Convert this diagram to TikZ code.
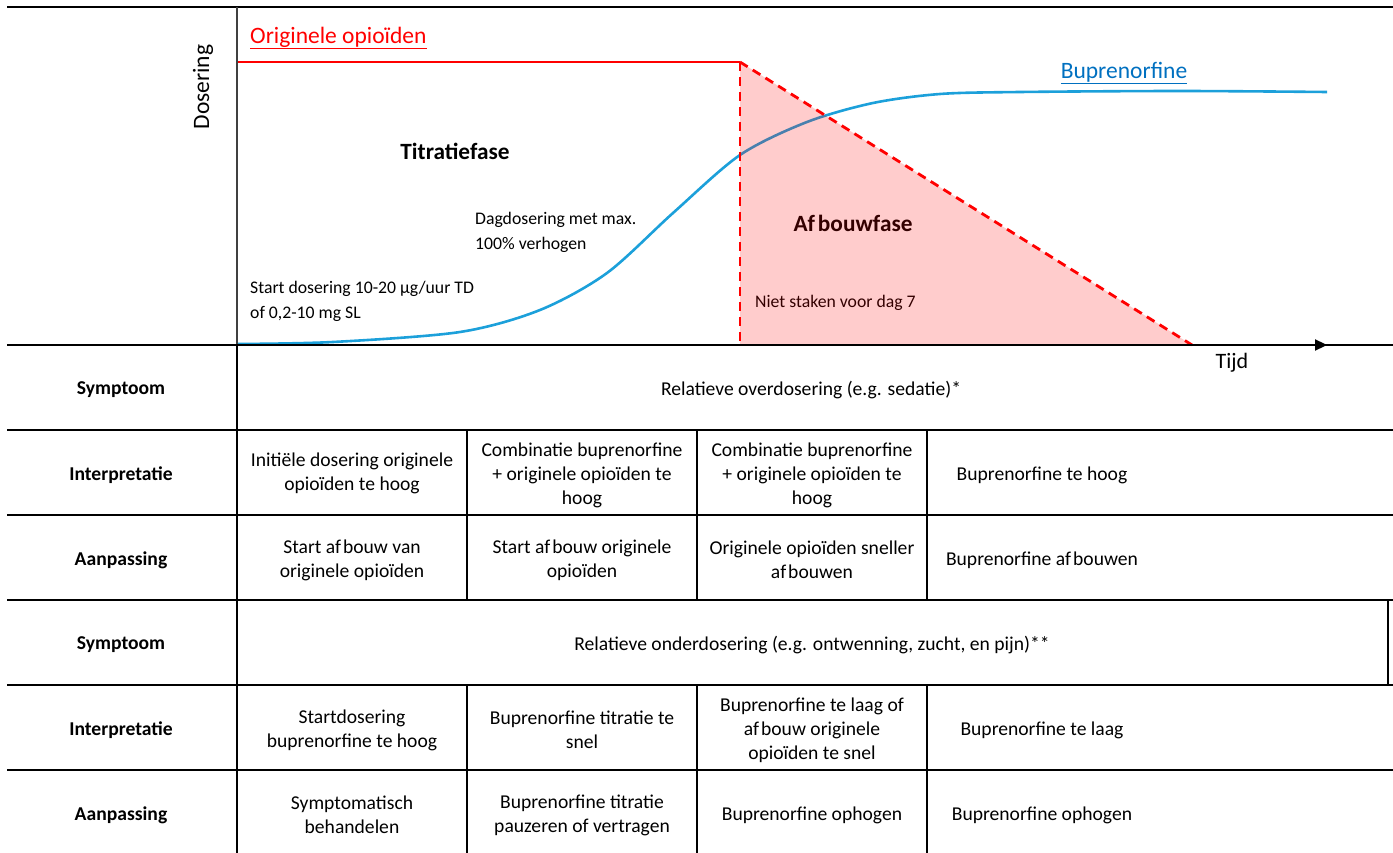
\documentclass[tikz,border=0pt]{standalone}
\usepackage{fontspec}
\setmainfont{Carlito}
\usetikzlibrary{arrows.meta}
\definecolor{bupblue}{RGB}{28,160,218}
\definecolor{buplabel}{RGB}{0,112,192}
\definecolor{origred}{RGB}{255,0,0}
\definecolor{axisgray}{RGB}{64,64,64}
\tikzset{
  cell/.style={align=center, font=\fontsize{19.6}{24}\selectfont, inner sep=0pt},
  rowlabel/.style={font=\bfseries\fontsize{19.6}{24}\selectfont, inner sep=0pt},
  rule/.style={line width=1.4pt, black},
  annot/.style={align=left, anchor=west, font=\fontsize{17.7}{25}\selectfont, inner sep=0pt},
  phase/.style={font=\bfseries\fontsize{23.3}{28}\selectfont, inner sep=0pt},
  legend/.style={font=\fontsize{23.5}{28}\selectfont, inner sep=0pt},
  redline/.style={origred, line width=2.8pt},
  reddash/.style={origred, line width=2.8pt, dash pattern=on 9pt off 6pt},
}
\begin{document}
\begin{tikzpicture}[x=1pt,y=-1pt]
\useasboundingbox (0,0) rectangle (1393,853);
% ---------- coordinates ----------
\coordinate (tl) at (7,7);
\coordinate (tr) at (1393,7);
\coordinate (ytop) at (237,7);
\coordinate (o) at (237,345);
\coordinate (xend) at (1327,345);
\coordinate (r0) at (237,62);
\coordinate (r1) at (740,62);
\coordinate (r2) at (740,345);
\coordinate (r3) at (1192,345);

% ---------- graph texts ----------
\node[legend, rotate=90] (dos) at (203,87) {Dosering};
\node[legend, text=origred, anchor=west] (orig) at (250,38) {\underline{Originele opioïden}};
\node[legend, text=buplabel] (bup) at (1124,73) {\underline{Buprenorfine}};
\node[phase] (titr) at (455,151) {Titratiefase};
\node[annot] (dag) at (475,232) {Dagdosering met max.\\100\% verhogen};
\node[annot] (start) at (250,301) {Start dosering 10-20 µg/uur TD\\of 0,2-10 mg SL};
\node[phase] (afb) at (853,223) {Af\kern3pt bouwfase};
\node[annot] (niet) at (755,303) {Niet staken voor dag 7};
\node[legend, font=\fontsize{22}{26}\selectfont] (tijd) at (1232,363) {Tijd};

% ---------- curves ----------
\draw[bupblue, line width=2.6pt] plot[smooth, tension=0.5] coordinates {(237,344) (333,342) (460,332) (540,310) (607,273) (673,213) (740,155) (807,122) (873,103) (940,94) (1020,92) (1180,91) (1327,92)};
\draw[redline] (r0) -- (r1);

% ---------- frame lines ----------
\draw[rule] (tl) -- (tr);
\draw[axisgray, line width=2pt] (ytop) -- (o);

% pink overlay
\fill[red, fill opacity=0.2] (r1) -- (r2) -- (r3) -- cycle;
\draw[reddash] (r1) -- (r2);
\draw[reddash] (r1) -- (r3);

% axis
\draw[rule] (7,345) -- (1393,345);
\draw[black, line width=2.2pt, -{Triangle[length=12pt,width=11pt]}] (o) -- (xend);

% ---------- table lines ----------
\foreach \y in {430,515,600,685,770}{\draw[rule] (7,\y) -- (1393,\y);}
\draw[rule] (237,345) -- (237,853);
\foreach \x in {467,697,927}{
  \draw[rule] (\x,430) -- (\x,600);
  \draw[rule] (\x,685) -- (\x,853);
}
\draw[rule] (1388,600) -- (1388,685);

% ---------- table texts ----------
\node[rowlabel] (l1) at (121,390) {Symptoom};
\node[rowlabel] (l2) at (121,475) {Interpretatie};
\node[rowlabel] (l3) at (121,560) {Aanpassing};
\node[rowlabel] (l4) at (121,645) {Symptoom};
\node[rowlabel] (l5) at (121,730) {Interpretatie};
\node[rowlabel] (l6) at (121,815) {Aanpassing};

\node[cell] (s1) at (811,390) {Relatieve overdosering (e.g. sedatie)*};
\node[cell] (i11) at (352,473) {Initiële dosering originele\\opioïden te hoog};
\node[cell] (i12) at (582,475) {Combinatie buprenorfine\\+ originele opioïden te\\hoog};
\node[cell] (i13) at (812,475) {Combinatie buprenorfine\\+ originele opioïden te\\hoog};
\node[cell] (i14) at (1042,475) {Buprenorfine te hoog};
\node[cell] (a11) at (352,560) {Start af\kern2pt bouw van\\originele opioïden};
\node[cell] (a12) at (582,560) {Start af\kern2pt bouw originele\\opioïden};
\node[cell] (a13) at (812,560) {Originele opioïden sneller\\af\kern2pt bouwen};
\node[cell] (a14) at (1042,560) {Buprenorfine af\kern2pt bouwen};

\node[cell] (s2) at (812,645) {Relatieve onderdosering (e.g. ontwenning, zucht, en pijn)**};
\node[cell] (i21) at (352,730) {Startdosering\\buprenorfine te hoog};
\node[cell] (i22) at (582,730) {Buprenorfine titratie te\\snel};
\node[cell] (i23) at (812,730) {Buprenorfine te laag of\\af\kern2pt bouw originele\\opioïden te snel};
\node[cell] (i24) at (1042,730) {Buprenorfine te laag};
\node[cell] (a21) at (352,815) {Symptomatisch\\behandelen};
\node[cell] (a22) at (582,815) {Buprenorfine titratie\\pauzeren of vertragen};
\node[cell] (a23) at (812,815) {Buprenorfine ophogen};
\node[cell] (a24) at (1042,815) {Buprenorfine ophogen};
\end{tikzpicture}
\end{document}
